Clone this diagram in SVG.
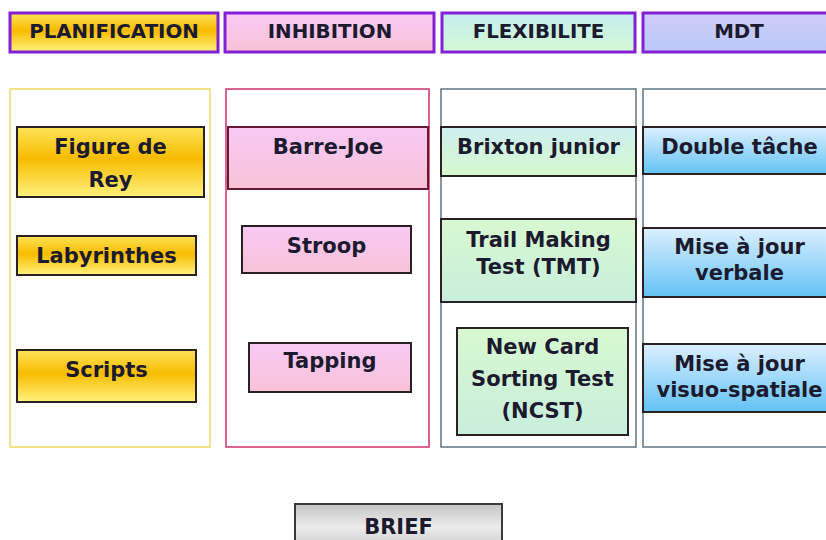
<svg xmlns="http://www.w3.org/2000/svg" width="826" height="540" viewBox="0 0 826 540">
<style>
text{font-family:"DejaVu Sans","Verdana",sans-serif;font-weight:bold;fill:#1c1a2e;text-anchor:middle}
.h{font-size:19.8px}
.n{font-size:21px}
.hdr{stroke:#8420d4;stroke-width:3}
.col{fill:#ffffff;stroke-width:1.5}
.nd{stroke:#2a2222;stroke-width:2}
</style>
<defs>
<linearGradient id="gGold" x1="0" y1="0" x2="0" y2="1"><stop offset="0" stop-color="#fde35a"/><stop offset="0.45" stop-color="#f7bc00"/><stop offset="1" stop-color="#fff27e"/></linearGradient>
<linearGradient id="gPink" x1="0" y1="0" x2="0" y2="1"><stop offset="0" stop-color="#f9c9f6"/><stop offset="1" stop-color="#f8c2d6"/></linearGradient>
<linearGradient id="gGreen" x1="0" y1="0" x2="0" y2="1"><stop offset="0" stop-color="#cdeef2"/><stop offset="1" stop-color="#d6f8cc"/></linearGradient>
<linearGradient id="gGreen2" x1="0" y1="0" x2="0" y2="1"><stop offset="0" stop-color="#d8f8d0"/><stop offset="1" stop-color="#c8eedc"/></linearGradient>
<linearGradient id="gBlue" x1="0" y1="0" x2="0" y2="1"><stop offset="0" stop-color="#dcefff"/><stop offset="1" stop-color="#62c2f4"/></linearGradient>
<linearGradient id="gHFlex" x1="0" y1="0" x2="0" y2="1"><stop offset="0" stop-color="#c4eef0"/><stop offset="1" stop-color="#d4f8d4"/></linearGradient>
<linearGradient id="gHMdt" x1="0" y1="0" x2="0" y2="1"><stop offset="0" stop-color="#d0ccf8"/><stop offset="1" stop-color="#b8c8f8"/></linearGradient>
<linearGradient id="gGray" x1="0" y1="0" x2="0" y2="1"><stop offset="0" stop-color="#c4c4c4"/><stop offset="0.5" stop-color="#ececec"/><stop offset="1" stop-color="#c8c8c8"/></linearGradient>
</defs>
<rect width="826" height="540" fill="#ffffff"/>

<g id="header-planification"><rect class="hdr" x="10" y="13" width="208" height="39" fill="url(#gGold)"/><text class="h" x="114" y="38">PLANIFICATION</text></g>
<g id="header-inhibition"><rect class="hdr" x="225" y="13" width="209" height="39" fill="url(#gPink)"/><text class="h" x="330" y="38">INHIBITION</text></g>
<g id="header-flexibilite"><rect class="hdr" x="442" y="13" width="193" height="39" fill="url(#gHFlex)"/><text class="h" x="538.5" y="38">FLEXIBILITE</text></g>
<g id="header-mdt"><rect class="hdr" x="643" y="13" width="192" height="39" fill="url(#gHMdt)"/><text class="h" x="739" y="38">MDT</text></g>

<g id="col-planification"><rect class="col" x="10" y="89" width="200" height="358" stroke="#f2d860"/></g>
<g id="col-inhibition"><rect class="col" x="226" y="89" width="203" height="358" stroke="#d0306c"/></g>
<g id="col-flexibilite"><rect class="col" x="441" y="89" width="195" height="358" stroke="#5e7484"/></g>
<g id="col-mdt"><rect class="col" x="643" y="89" width="193" height="358" stroke="#5e7484"/></g>

<g id="figure-de-rey"><rect class="nd" x="17" y="127" width="187" height="70" fill="url(#gGold)"/><text class="n" x="110.5" y="154">Figure de</text><text class="n" x="110.5" y="187">Rey</text></g>
<g id="labyrinthes"><rect class="nd" x="17" y="236" width="179" height="39" fill="url(#gGold)"/><text class="n" x="106.5" y="262.5">Labyrinthes</text></g>
<g id="scripts"><rect class="nd" x="17" y="350" width="179" height="52" fill="url(#gGold)"/><text class="n" x="106.5" y="376.5">Scripts</text></g>

<g id="barre-joe"><rect x="228" y="127" width="200" height="62" fill="url(#gPink)" stroke="#6a1a30" stroke-width="2"/><text class="n" x="328" y="154">Barre-Joe</text></g>
<g id="stroop"><rect class="nd" x="242" y="226" width="169" height="47" fill="url(#gPink)"/><text class="n" x="326.5" y="252.5">Stroop</text></g>
<g id="tapping"><rect class="nd" x="249" y="343" width="162" height="49" fill="url(#gPink)"/><text class="n" x="330" y="368">Tapping</text></g>

<g id="brixton"><rect class="nd" x="441" y="127" width="195" height="49" fill="url(#gGreen)"/><text class="n" x="538.5" y="154">Brixton junior</text></g>
<g id="tmt"><rect class="nd" x="441" y="219" width="195" height="83" fill="url(#gGreen2)"/><text class="n" x="538.5" y="246.5">Trail Making</text><text class="n" x="538.5" y="274">Test (TMT)</text></g>
<g id="ncst"><rect class="nd" x="457" y="328" width="171" height="107" fill="url(#gGreen2)"/><text class="n" x="542.5" y="354">New Card</text><text class="n" x="542.5" y="386">Sorting Test</text><text class="n" x="542.5" y="418">(NCST)</text></g>

<g id="double-tache"><rect class="nd" x="643" y="127" width="193" height="47" fill="url(#gBlue)"/><text class="n" x="739.5" y="154">Double tâche</text></g>
<g id="maj-verbale"><rect class="nd" x="643" y="228" width="193" height="69" fill="url(#gBlue)"/><text class="n" x="739.5" y="254">Mise à jour</text><text class="n" x="739.5" y="280">verbale</text></g>
<g id="maj-visuo"><rect class="nd" x="643" y="344" width="193" height="68" fill="url(#gBlue)"/><text class="n" x="739.5" y="370.5">Mise à jour</text><text class="n" x="739.5" y="396.5">visuo-spatiale</text></g>

<g id="brief"><rect x="295" y="504" width="207" height="46" fill="url(#gGray)" stroke="#3a3a3a" stroke-width="2"/><text class="n" x="398.5" y="534">BRIEF</text></g>

<g id="connectors"></g>
</svg>
